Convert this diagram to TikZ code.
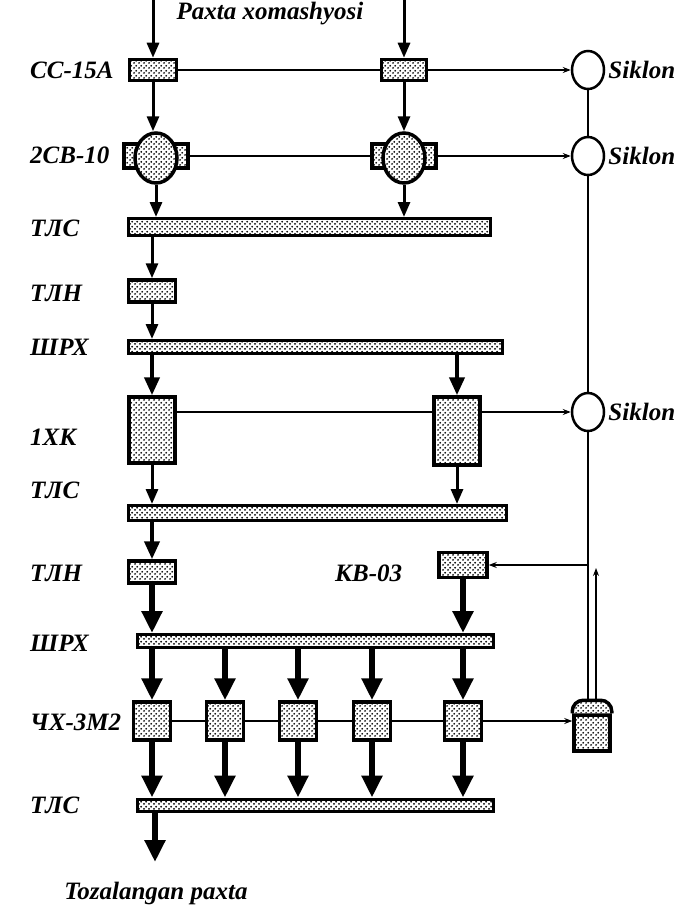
\documentclass[tikz,border=0pt]{standalone}
\usepackage{fontspec}
\setmainfont{Liberation Serif}
\usetikzlibrary{arrows.meta,patterns,shapes.geometric}
% dotted fill of the machines
\pgfdeclarepatternformonly{stipple}{\pgfpointorigin}{\pgfqpoint{4.6pt}{4.6pt}}{\pgfqpoint{4.6pt}{4.6pt}}{%
  \pgfpathcircle{\pgfqpoint{1.15pt}{1.15pt}}{1.05pt}%
  \pgfpathcircle{\pgfqpoint{3.45pt}{3.45pt}}{1.05pt}%
  \pgfusepath{fill}}
\tikzset{
  lbl/.style={font=\bfseries\itshape\fontsize{25}{28}\selectfont,inner sep=0pt},
  mach/.style 2 args={draw,line width=3.5pt,preaction={fill=white},pattern=stipple,
    inner sep=0pt,minimum width=#1,minimum height=#2},
  conv/.style 2 args={mach={#1}{#2},line width=3pt},
  siklon/.style={draw,ellipse,line width=2.5pt,fill=white,inner sep=0pt,
    minimum width=32pt,minimum height=38pt},
  air/.style={line width=1.1pt},
  airflow/.style={air,-{Stealth[length=8pt,width=6pt]}},
  feed/.style={line width=3pt,-{Triangle[length=15pt,width=12pt]}},
  feedm/.style={line width=4pt,-{Triangle[length=18pt,width=15pt]}},
  feedh/.style={line width=6pt,-{Triangle[length=22pt,width=20pt]}},
}
\begin{document}
\begin{tikzpicture}[x=1pt,y=-1pt]
  \useasboundingbox (0,0) rectangle (682,907);
  % labels
  \node[lbl] (raw) at (270,14) {Paxta xomashyosi};
  \node[lbl,anchor=west] (lcc) at (30,70) {СС-15А};
  \node[lbl,anchor=west] (lsb) at (30,155) {2СВ-10};
  \node[lbl,anchor=west] (ltls1) at (30,228) {ТЛС};
  \node[lbl,anchor=west] (ltln1) at (30,293) {ТЛН};
  \node[lbl,anchor=west] (lshrx1) at (30,347) {ШРХ};
  \node[lbl,anchor=west] (lxk) at (30,437) {1ХК};
  \node[lbl,anchor=west] (ltls2) at (30,490) {ТЛС};
  \node[lbl,anchor=west] (ltln2) at (30,573) {ТЛН};
  \node[lbl,anchor=west] (lkb) at (335,573) {КВ-03};
  \node[lbl,anchor=west] (lshrx2) at (30,643) {ШРХ};
  \node[lbl,anchor=west] (lcx) at (30,722) {ЧХ-3М2};
  \node[lbl,anchor=west] (ltls3) at (30,805) {ТЛС};
  \node[lbl] (out) at (156,893) {Tozalangan paxta};

  % cyclones
  \node[siklon] (s1) at (588,70) {};
  \node[siklon] (s2) at (588,156) {};
  \node[siklon] (s3) at (588,412) {};
  \node[lbl,anchor=west] (ls1) at ([xshift=3pt]s1.east) {Siklon};
  \node[lbl,anchor=west] (ls2) at ([xshift=3pt]s2.east) {Siklon};
  \node[lbl,anchor=west] (ls3) at ([xshift=3pt]s3.east) {Siklon};

  % machines
  \coordinate (in1) at (153,0);
  \coordinate (in2) at (404,0);
  \node[mach={47}{21}] (cc1) at (153,70) {};
  \node[mach={45}{21}] (cc2) at (404,70) {};
  \node[mach={64}{24}] (sb1r) at (156,156) {};
  \node[mach={42}{50},ellipse] (sb1) at (156,158) {};
  \node[mach={64}{24}] (sb2r) at (404,156) {};
  \node[mach={42}{50},ellipse] (sb2) at (404,158) {};
  \node[conv={362}{17}] (tls1) at (309,227) {};
  \node[mach={47}{22}] (tln1) at (152,291) {};
  \node[conv={374}{13}] (shrx1) at (315,347) {};
  \node[mach={46}{66}] (xk1) at (152,430) {};
  \node[mach={46}{68}] (xk2) at (457,431) {};
  \node[conv={378}{15}] (tls2) at (317,513) {};
  \node[mach={47}{22}] (tln2) at (152,572) {};
  \node[mach={48}{25}] (kb) at (463,565) {};
  \node[conv={356}{13}] (shrx2) at (315,641) {};
  \node[conv={356}{12}] (tls3) at (315,805) {};
  \node[mach={36}{36}] (bag) at (592,733) {};
  \draw[line width=3.5pt,preaction={fill=white},pattern=stipple,rounded corners=11pt]
    (bag.north west) -- ([yshift=13pt]bag.north west)
    -- ([yshift=13pt]bag.north east) -- (bag.north east);
  \coordinate (bt1) at ([xshift=-4pt,yshift=14pt]bag.north);
  \coordinate (bt2) at ([xshift=4pt,yshift=14pt]bag.north);
  \coordinate (outp) at (155,862);

  % cotton flow
  \draw[feed] (in1) -- (cc1.north);
  \draw[feed] (in2) -- (cc2.north);
  \draw[feed] (cc1.south) -- (cc1.south |- sb1.north);
  \draw[feed] (cc2.south) -- (sb2.north);
  \draw[feed] (sb1.south) -- (sb1.south |- tls1.north);
  \draw[feed] (sb2.south) -- (sb2.south |- tls1.north);
  \draw[feed] (tln1 |- tls1.south) -- (tln1.north);
  \draw[feed] (tln1.south) -- (tln1 |- shrx1.north);
  \draw[feedm] (xk1 |- shrx1.south) -- (xk1.north);
  \draw[feedm] (xk2 |- shrx1.south) -- (xk2.north);
  \draw[feed] (xk1.south) -- (xk1 |- tls2.north);
  \draw[feed] (xk2.south) -- (xk2 |- tls2.north);
  \draw[feedm] (tln2 |- tls2.south) -- (tln2.north);
  \draw[feedh] (tln2.south) -- (tln2 |- shrx2.north);
  \draw[feedh] (kb.south) -- (kb |- shrx2.north);
  \foreach \i/\x in {1/152,2/225,3/298,4/372,5/463} {
    \node[mach={37}{38}] (cx\i) at (\x,721) {};
    \draw[feedh] (cx\i |- shrx2.south) -- (cx\i.north);
    \draw[feedh] (cx\i.south) -- (cx\i |- tls3.north);
  }
  \draw[feedh] (outp |- tls3.south) -- (outp);

  % air lines
  \draw[air] (cc1.east) -- (cc2.west);
  \draw[airflow] (cc2.east) -- (s1.west);
  \draw[air] (sb1r.east) -- (sb2r.west);
  \draw[airflow] (sb2r.east) -- (s2.west);
  \draw[air] (xk1.east |- s3.west) -- (xk2.west |- s3.west);
  \draw[airflow] (xk2.east |- s3.west) -- (s3.west);
  \foreach \i [count=\j from 2] in {1,...,4}
    \draw[air] (cx\i.east) -- (cx\j.west);
  \draw[airflow] (cx5.east) -- (cx5.east -| bag.west);
  \draw[air] (s1.south) -- (s2.north);
  \draw[air] (s2.south) -- (s3.north);
  \draw[air] (s3.south) -- (s3.south |- bt1);
  \draw[airflow] (s3.south |- kb.east) -- (kb.east);
  \draw[airflow] (bt2) -- ([yshift=-3pt]bt2 |- kb.east);
\end{tikzpicture}
\end{document}
